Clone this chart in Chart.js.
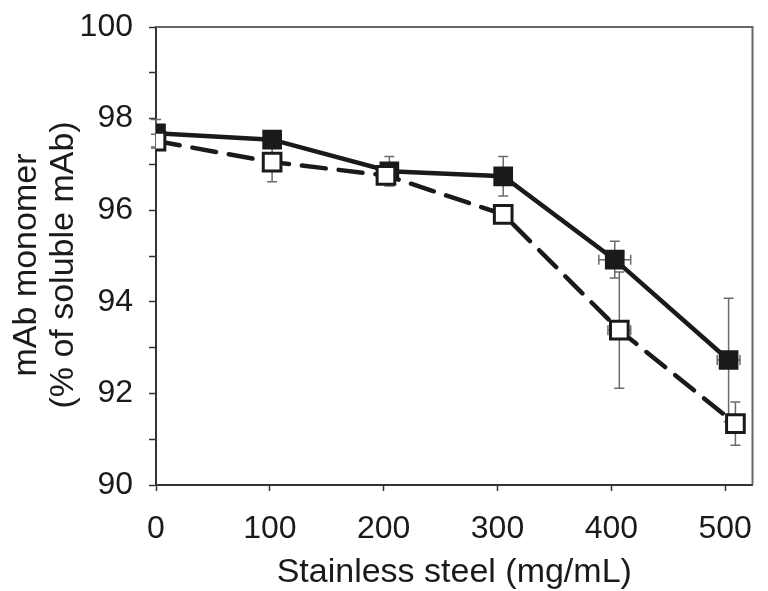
<!DOCTYPE html>
<html><head><meta charset="utf-8">
<script src="https://cdn.jsdelivr.net/npm/chart.js@4/dist/chart.umd.min.js"></script>
<style>html,body{margin:0;padding:0;background:#fff}#wrap{width:768px;height:591px}</style>
</head><body><div id="wrap"><canvas id="c" width="768" height="591"></canvas></div>
<script>
// Data
const filledX = [0, 102, 205, 305, 403, 503];
const filledY = [97.68, 97.54, 96.85, 96.74, 94.92, 92.73];
const filledYErr = [0.30, 0.10, 0.32, 0.43, 0.40, 1.35];
const filledXErr = [0, 0, 0, 0, 14, 10];
const openX = [0, 102, 202, 305, 407, 509];
const openY = [97.51, 97.05, 96.76, 95.91, 93.38, 91.34];
const openYErr = [0.15, 0.43, 0.15, 0.15, 1.27, 0.47];
const openXErr = [0, 0, 0, 0, 10, 0];
const xTicks = [0, 100, 200, 300, 400, 500];
const yTicks = [90, 92, 94, 96, 98, 100];
const xTitle = 'Stainless steel (mg/mL)';
const yTitle = ['mAb monomer', '(% of soluble mAb)'];

const FONT = "'Liberation Sans', Arial, Helvetica, sans-serif";

const errorBars = {
  id: 'errorBars',
  beforeDatasetsDraw(chart) {
    const ctx = chart.ctx, xs = chart.scales.x, ys = chart.scales.y;
    ctx.save();
    ctx.strokeStyle = '#6a6a6a';
    ctx.lineWidth = 1.5;
    const cap = 5;
    const draw = (X, Y, YE, XE) => {
      for (let i = 0; i < X.length; i++) {
        const px = xs.getPixelForValue(X[i]), py = ys.getPixelForValue(Y[i]);
        if (YE[i] > 0) {
          const t = ys.getPixelForValue(Y[i] + YE[i]), b = ys.getPixelForValue(Y[i] - YE[i]);
          ctx.beginPath();
          ctx.moveTo(px, t); ctx.lineTo(px, b);
          ctx.moveTo(px - cap, t); ctx.lineTo(px + cap, t);
          ctx.moveTo(px - cap, b); ctx.lineTo(px + cap, b);
          ctx.stroke();
        }
        if (XE[i] > 0) {
          const l = xs.getPixelForValue(X[i] - XE[i]), r = xs.getPixelForValue(X[i] + XE[i]);
          ctx.beginPath();
          ctx.moveTo(l, py); ctx.lineTo(r, py);
          ctx.moveTo(l, py - cap); ctx.lineTo(l, py + cap);
          ctx.moveTo(r, py - cap); ctx.lineTo(r, py + cap);
          ctx.stroke();
        }
      }
    };
    draw(filledX, filledY, filledYErr, filledXErr);
    draw(openX, openY, openYErr, openXErr);
    ctx.restore();
  },
  afterDraw(chart) {
    const ctx = chart.ctx, a = chart.chartArea;
    ctx.save();
    ctx.strokeStyle = '#666';
    ctx.lineWidth = 2;
    ctx.beginPath();
    ctx.moveTo(a.left, a.top); ctx.lineTo(a.right, a.top); ctx.lineTo(a.right, a.bottom);
    ctx.stroke();
    // y-axis title (two lines, rotated)
    ctx.fillStyle = '#1a1a1a';
    ctx.font = '34px ' + FONT;
    ctx.textAlign = 'center';
    ctx.textBaseline = 'middle';
    const cy = 265;
    const xs = [27, 64];
    yTitle.forEach((t, i) => {
      ctx.save();
      ctx.translate(xs[i], cy);
      ctx.rotate(-Math.PI / 2);
      ctx.fillText(t, 0, 0);
      ctx.restore();
    });
    ctx.restore();
  }
};

new Chart(document.getElementById('c'), {
  type: 'scatter',
  data: {
    datasets: [
      {
        label: 'open',
        data: openX.map((x, i) => ({x, y: openY[i]})),
        showLine: true,
        borderColor: '#1a1a1a',
        borderWidth: 4.5,
        borderDash: [24, 13],
        borderCapStyle: 'round',
        pointStyle: 'rect',
        pointRadius: 12.5,
        pointBorderWidth: 3,
        pointBackgroundColor: '#ffffff',
        pointBorderColor: '#1a1a1a'
      },
      {
        label: 'filled',
        data: filledX.map((x, i) => ({x, y: filledY[i]})),
        showLine: true,
        borderColor: '#1a1a1a',
        borderWidth: 4.5,
        pointStyle: 'rect',
        pointRadius: 12.5,
        pointBorderWidth: 2,
        pointBackgroundColor: '#1a1a1a',
        pointBorderColor: '#1a1a1a'
      }
    ]
  },
  options: {
    responsive: false,
    animation: false,
    events: [],
    layout: { padding: { left: 0, right: 6, top: 27, bottom: 0 } },
    plugins: { legend: { display: false }, tooltip: { enabled: false } },
    scales: {
      x: {
        type: 'linear', min: 0, max: 524,
        afterBuildTicks(s) { s.ticks = xTicks.map(v => ({value: v})); },
        afterFit(s) { s.height = 106; s.paddingLeft = 0; s.paddingRight = 0; },
        grid: { drawOnChartArea: false, tickLength: 6, color: '#333', tickWidth: 1.5 },
        border: { color: '#333', width: 2 },
        ticks: { color: '#1a1a1a', font: { family: FONT, size: 32 }, padding: 19, maxRotation: 0 },
        title: { display: true, text: xTitle, color: '#1a1a1a', font: { family: FONT, size: 34, lineHeight: 1 }, padding: { top: 0, bottom: 1 } }
      },
      y: {
        type: 'linear', min: 90, max: 100,
        afterBuildTicks(s) {
          const t = [];
          for (let v = 90; v <= 100; v++) t.push({value: v});
          s.ticks = t;
        },
        afterFit(s) { s.width = 156; s.paddingTop = 0; s.paddingBottom = 0; },
        grid: { drawOnChartArea: false, tickLength: 7, color: '#333', tickWidth: 1.5 },
        border: { color: '#333', width: 2 },
        ticks: {
          color: '#1a1a1a', font: { family: FONT, size: 32 }, padding: 16,
          callback: (v) => yTicks.includes(v) ? String(v) : ''
        },
        title: { display: false }
      }
    }
  },
  plugins: [errorBars]
});
</script>
</body></html>
